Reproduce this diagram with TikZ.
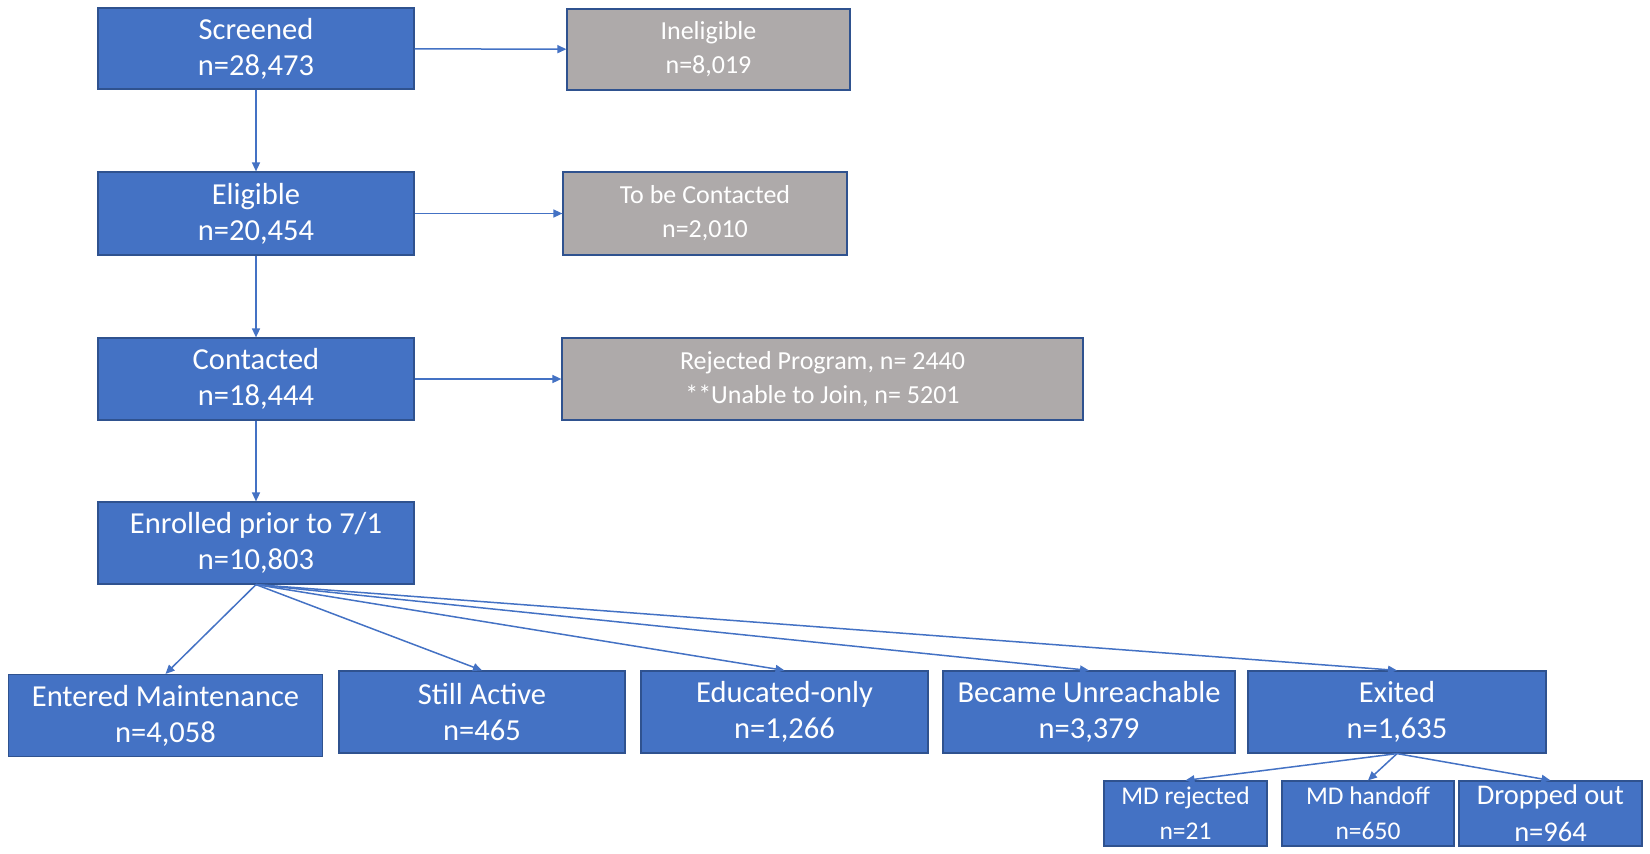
\documentclass[tikz,border=0pt]{standalone}
\usepackage{fontspec}
\setmainfont{Carlito}
\usetikzlibrary{arrows.meta}
\definecolor{boxblue}{HTML}{4472C4}
\definecolor{edgeblue}{HTML}{2F528F}
\definecolor{boxgray}{HTML}{AEAAAA}
\tikzset{
  bluebox/.style={draw=edgeblue, line width=1.2pt, fill=boxblue, text=white, align=center, inner sep=0pt,
    font=\fontsize{30.5}{36}\selectfont},
  graybox/.style={draw=edgeblue, line width=1.2pt, fill=boxgray, text=white, align=center, inner sep=0pt,
    font=\fontsize{26}{34}\selectfont},
  lowbox/.style={bluebox, font=\fontsize{30.5}{36}\selectfont},
  mdbox/.style={bluebox, font=\fontsize{25.5}{35}\selectfont},
  mdbigbox/.style={bluebox, font=\fontsize{28.5}{37}\selectfont},
  conn/.style={draw=boxblue, line width=1.5pt, -{Triangle[length=9pt,width=8pt]}}
}
\begin{document}
\begin{tikzpicture}[x=1pt,y=-1pt]
\useasboundingbox (0,0) rectangle (1650,854);
\node[bluebox, minimum width=316pt, minimum height=81pt] (scr) at (256,48.5) {Screened\\n=28,473};
\node[graybox, minimum width=283pt, minimum height=81pt] (inel) at (708.5,49.5) {Ineligible\\n=8,019};
\node[bluebox, minimum width=316pt, minimum height=83pt] (elig) at (256,213.5) {Eligible\\n=20,454};
\node[graybox, minimum width=284pt, minimum height=83pt] (tbc) at (705,213.5) {To be Contacted\\n=2,010};
\node[bluebox, minimum width=316pt, minimum height=82pt] (cont) at (256,379) {Contacted\\n=18,444};
\node[graybox, minimum width=521pt, minimum height=82pt] (rej) at (822.5,379) {Rejected Program, n= 2440\\**Unable to Join, n= 5201};
\node[bluebox, minimum width=316pt, minimum height=82pt] (enr) at (256,543) {Enrolled prior to 7/1\\n=10,803};
\node[lowbox, minimum width=314pt, minimum height=82pt] (em) at (165.5,715.5) {Entered Maintenance\\n=4,058};
\node[lowbox, minimum width=286pt, minimum height=82pt] (sa) at (482,712) {Still Active\\n=465};
\node[lowbox, minimum width=287pt, minimum height=82pt] (edu) at (784.5,712) {Educated-only\\n=1,266};
\node[lowbox, minimum width=292pt, minimum height=82pt] (bu) at (1089,712) {Became Unreachable\\n=3,379};
\node[lowbox, minimum width=298pt, minimum height=82pt] (ex) at (1397,712) {Exited\\n=1,635};
\node[mdbox, minimum width=163pt, minimum height=65pt] (mdr) at (1185.5,813.5) {MD rejected\\n=21};
\node[mdbox, minimum width=172pt, minimum height=65pt] (mdh) at (1368,813.5) {MD handoff\\n=650};
\node[mdbigbox, minimum width=183pt, minimum height=65pt] (dro) at (1550.5,813.5) {Dropped out\\n=964};
\draw[conn] (scr) -- (inel);
\draw[conn] (elig) -- (tbc);
\draw[conn] (cont) -- (rej);
\draw[conn] (scr) -- (elig);
\draw[conn] (elig) -- (cont);
\draw[conn] (cont) -- (enr);
\draw[conn] (enr.south) -- (em.north);
\draw[conn] (enr.south) -- (sa.north);
\draw[conn] (enr.south) -- (edu.north);
\draw[conn] (enr.south) -- (bu.north);
\draw[conn] (enr.south) -- (ex.north);
\draw[conn] (ex.south) -- (mdr.north);
\draw[conn] (ex.south) -- (mdh.north);
\draw[conn] (ex.south) -- (dro.north);
\end{tikzpicture}
\end{document}
